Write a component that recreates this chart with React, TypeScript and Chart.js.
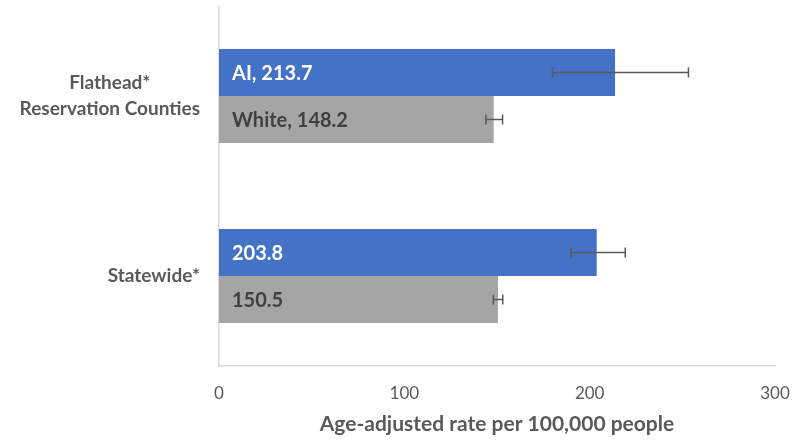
import React, { useEffect, useRef } from "react";
import { Chart, registerables } from "chart.js";

Chart.register(...registerables);

const categories: string[][] = [["Flathead*", "Reservation Counties"], ["Statewide*"]];
const aiValues = [213.7, 203.8];
const aiLow = [180.0, 190.0];
const aiHigh = [253.3, 219.2];
const whiteValues = [148.2, 150.5];
const whiteLow = [144.0, 148.0];
const whiteHigh = [153.0, 153.1];
const aiPrefixes = ["AI, ", ""];
const whitePrefixes = ["White, ", ""];
const xTicks = [0, 100, 200, 300];
const xTitle = "Age-adjusted rate per 100,000 people";

const FONT = "Lato";

const customPlugin = {
  id: "custom",
  afterDatasetsDraw(chart: any) {
    const ctx = chart.ctx;
    const xScale = chart.scales.x;
    const yScale = chart.scales.y;
    const lows = [aiLow, whiteLow];
    const highs = [aiHigh, whiteHigh];
    const prefixes = [aiPrefixes, whitePrefixes];
    const textColors = ["#FFFFFF", "#404040"];
    chart.data.datasets.forEach((ds: any, di: number) => {
      const meta = chart.getDatasetMeta(di);
      meta.data.forEach((el: any, i: number) => {
        ctx.save();
        ctx.font = `bold 20px ${FONT}`;
        ctx.fillStyle = textColors[di];
        ctx.textAlign = "left";
        ctx.textBaseline = "middle";
        const base = xScale.getPixelForValue(0);
        ctx.fillText(prefixes[di][i] + ds.data[i].toFixed(1), base + 13, el.y + 1);
        ctx.restore();
        const x1 = xScale.getPixelForValue(lows[di][i]);
        const x2 = xScale.getPixelForValue(highs[di][i]);
        ctx.save();
        ctx.strokeStyle = "#595959";
        ctx.lineWidth = 1.5;
        ctx.beginPath();
        ctx.moveTo(x1, el.y);
        ctx.lineTo(x2, el.y);
        ctx.moveTo(x1, el.y - 5);
        ctx.lineTo(x1, el.y + 5);
        ctx.moveTo(x2, el.y - 5);
        ctx.lineTo(x2, el.y + 5);
        ctx.stroke();
        ctx.restore();
      });
    });
    ctx.save();
    ctx.font = `bold 19px ${FONT}`;
    ctx.fillStyle = "#595959";
    ctx.textAlign = "center";
    ctx.textBaseline = "middle";
    const lineH = 26;
    categories.forEach((lines, i) => {
      const cy = yScale.getPixelForValue(i);
      const w = Math.max(...lines.map((l) => ctx.measureText(l).width));
      const cx = yScale.right - 19 - w / 2;
      const startY = cy - ((lines.length - 1) * lineH) / 2;
      lines.forEach((l, j) => ctx.fillText(l, cx, startY + j * lineH));
    });
    ctx.restore();
  },
};

export default function App() {
  const ref = useRef<HTMLCanvasElement | null>(null);
  useEffect(() => {
    if (!ref.current) return;
    const chart = new Chart(ref.current, {
      type: "bar",
      data: {
        labels: categories.map((c) => c.join(" ")),
        datasets: [
          {
            label: "AI",
            data: aiValues,
            backgroundColor: "#4472C4",
            categoryPercentage: 0.522,
            barPercentage: 1,
          },
          {
            label: "White",
            data: whiteValues,
            backgroundColor: "#A5A5A5",
            categoryPercentage: 0.522,
            barPercentage: 1,
          },
        ],
      },
      options: {
        indexAxis: "y",
        animation: false,
        responsive: false,
        devicePixelRatio: 1,
        layout: { padding: { top: 6, right: 27, left: 0, bottom: 0 } },
        plugins: {
          legend: { display: false },
          tooltip: { enabled: false },
        },
        scales: {
          x: {
            min: 0,
            max: 300,
            afterBuildTicks: (scale: any) => {
              scale.ticks = xTicks.map((v) => ({ value: v }));
            },
            afterFit: (scale: any) => {
              scale.height = 74;
              scale.paddingLeft = 0;
              scale.paddingRight = 0;
            },
            grid: { display: false, drawTicks: false },
            border: { display: true, color: "#D9D9D9", width: 1.5 },
            ticks: {
              font: { family: FONT, size: 17 },
              color: "#595959",
              padding: 17,
              maxRotation: 0,
            },
            title: {
              display: true,
              text: xTitle,
              font: { family: FONT, size: 21, weight: "bold" },
              color: "#595959",
              padding: { top: 0, bottom: 3 },
            },
          },
          y: {
            afterFit: (scale: any) => {
              scale.width = 219;
            },
            grid: { display: false, drawTicks: false },
            border: { display: true, color: "#D9D9D9", width: 1.5 },
            ticks: { display: false },
          },
        },
      },
      plugins: [customPlugin],
    });
    return () => chart.destroy();
  }, []);
  return (
    <div style={{ position: "absolute", left: 0, top: 0, width: 802, height: 440, background: "#fff" }}>
      <canvas ref={ref} width={802} height={440} style={{ width: 802, height: 440, display: "block" }} />
    </div>
  );
}
